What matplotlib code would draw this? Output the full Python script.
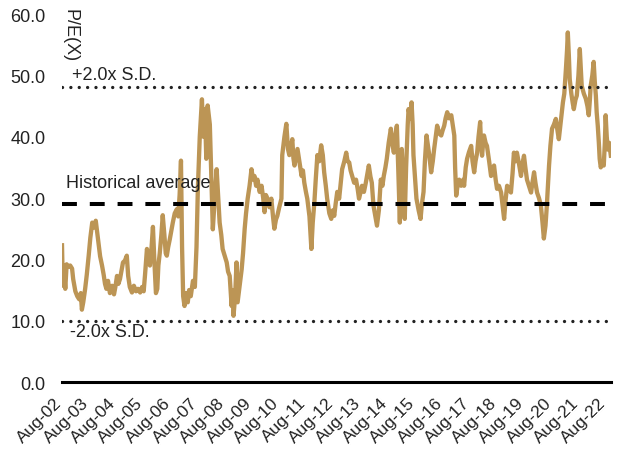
import matplotlib
matplotlib.use("Agg")
import matplotlib.pyplot as plt
import numpy as np

plt.rcParams['font.family'] = ['Liberation Sans', 'DejaVu Sans']

# Time in decimal years, P/E values
t = [2002.50, 2002.53, 2002.56, 2002.62, 2002.67, 2002.73, 2002.80, 2002.87, 2002.91, 2002.99,
     2003.06, 2003.13, 2003.19, 2003.23, 2003.28, 2003.35, 2003.41, 2003.48, 2003.54, 2003.61,
     2003.68, 2003.74, 2003.79, 2003.85, 2003.90, 2003.97, 2004.03, 2004.08, 2004.13, 2004.19,
     2004.26, 2004.34, 2004.41, 2004.46, 2004.52, 2004.57, 2004.63, 2004.68, 2004.74, 2004.81,
     2004.88, 2004.93, 2004.99, 2005.07, 2005.14, 2005.22, 2005.29, 2005.37, 2005.44, 2005.50,
     2005.55, 2005.62, 2005.68, 2005.73, 2005.79, 2005.84, 2005.89, 2005.95, 2006.00, 2006.04,
     2006.09, 2006.15, 2006.20, 2006.26, 2006.31, 2006.35, 2006.40, 2006.46, 2006.51, 2006.57,
     2006.64, 2006.72, 2006.77, 2006.82, 2006.87, 2006.91, 2006.95, 2007.00, 2007.06, 2007.12,
     2007.17, 2007.23, 2007.31, 2007.38, 2007.44, 2007.49, 2007.56, 2007.64, 2007.69, 2007.75,
     2007.80, 2007.85, 2007.93, 2008.00, 2008.04, 2008.11, 2008.18, 2008.24, 2008.29, 2008.35,
     2008.40, 2008.48, 2008.55, 2008.60, 2008.66, 2008.73, 2008.77, 2008.80, 2008.86, 2008.91,
     2008.95, 2009.02, 2009.10, 2009.15, 2009.21, 2009.26, 2009.32, 2009.39, 2009.46, 2009.52,
     2009.57, 2009.63, 2009.68, 2009.76, 2009.83, 2009.89, 2009.94, 2009.99, 2010.05, 2010.12,
     2010.19, 2010.25, 2010.30, 2010.36, 2010.41, 2010.48, 2010.56, 2010.59, 2010.67, 2010.74,
     2010.80, 2010.85, 2010.91, 2010.96, 2011.00, 2011.04, 2011.09, 2011.15, 2011.22, 2011.30,
     2011.35, 2011.40, 2011.46, 2011.51, 2011.59, 2011.66, 2011.71, 2011.77, 2011.82, 2011.88,
     2011.95, 2012.02, 2012.08, 2012.13, 2012.19, 2012.24, 2012.32, 2012.39, 2012.45, 2012.50,
     2012.55, 2012.61, 2012.68, 2012.74, 2012.79, 2012.87, 2012.94, 2012.99, 2013.05, 2013.10,
     2013.16, 2013.23, 2013.30, 2013.36, 2013.41, 2013.47, 2013.52, 2013.59, 2013.66, 2013.72,
     2013.77, 2013.83, 2013.88, 2013.94, 2013.99, 2014.07, 2014.14, 2014.21, 2014.27, 2014.32,
     2014.38, 2014.43, 2014.50, 2014.58, 2014.63, 2014.69, 2014.74, 2014.80, 2014.85, 2014.91,
     2014.94, 2014.98, 2015.03, 2015.09, 2015.14, 2015.20, 2015.23, 2015.29, 2015.34, 2015.38,
     2015.41, 2015.47, 2015.52, 2015.60, 2015.67, 2015.72, 2015.78, 2015.83, 2015.89, 2015.99,
     2016.06, 2016.12, 2016.17, 2016.23, 2016.28, 2016.36, 2016.43, 2016.48, 2016.54, 2016.59,
     2016.65, 2016.72, 2016.80, 2016.85, 2016.91, 2016.94, 2016.98, 2017.03, 2017.09, 2017.16,
     2017.24, 2017.27, 2017.33, 2017.38, 2017.45, 2017.53, 2017.58, 2017.64, 2017.69, 2017.75,
     2017.80, 2017.86, 2017.89, 2017.93, 2017.97, 2018.00, 2018.06, 2018.11, 2018.19, 2018.26,
     2018.32, 2018.37, 2018.43, 2018.48, 2018.55, 2018.63, 2018.68, 2018.74, 2018.79, 2018.85,
     2018.92, 2018.99, 2019.05, 2019.10, 2019.16, 2019.21, 2019.29, 2019.36, 2019.41, 2019.47,
     2019.52, 2019.58, 2019.65, 2019.73, 2019.78, 2019.84, 2019.89, 2019.95, 2020.02, 2020.09,
     2020.15, 2020.20, 2020.26, 2020.31, 2020.35, 2020.39, 2020.44, 2020.50, 2020.57, 2020.64,
     2020.70, 2020.75, 2020.81, 2020.86, 2020.90, 2020.95, 2021.01, 2021.05, 2021.08, 2021.12,
     2021.15, 2021.21, 2021.26, 2021.30, 2021.36, 2021.41, 2021.47, 2021.52, 2021.56, 2021.59,
     2021.67, 2021.74, 2021.80, 2021.85, 2021.89, 2021.92, 2021.98, 2022.03, 2022.07, 2022.11,
     2022.14, 2022.18, 2022.22, 2022.25, 2022.29, 2022.35, 2022.40, 2022.44, 2022.47, 2022.51,
     2022.55, 2022.60, 2022.66]

pe = [22.3, 15.7, 19.0, 15.2, 19.2, 18.8, 19.0, 18.5, 16.8, 14.8,
      14.0, 13.5, 14.5, 11.8, 13.0, 15.2, 17.5, 20.6, 23.5, 26.0,
      25.2, 26.3, 24.5, 22.2, 20.5, 19.0, 17.5, 16.0, 15.2, 16.5,
      14.5, 15.7, 14.3, 15.5, 17.3, 16.0, 16.8, 18.0, 19.5, 19.8,
      20.6, 17.3, 15.5, 14.6, 15.7, 14.8, 15.2, 14.6, 15.5, 14.8,
      17.5, 21.7, 20.0, 19.0, 22.0, 25.3, 20.0, 14.5, 15.2, 19.0,
      21.0, 24.0, 27.2, 24.0, 21.0, 20.6, 22.0, 23.3, 24.5, 26.0,
      27.5, 28.2, 27.0, 30.5, 36.1, 22.0, 14.0, 12.4, 14.5, 13.0,
      15.0, 14.0, 16.5, 15.5, 22.0, 31.5, 40.0, 46.1, 40.0, 44.5,
      36.4, 45.1, 42.0, 31.5, 24.9, 30.0, 34.7, 30.0, 26.0, 24.0,
      21.7, 20.5, 19.5, 18.0, 17.3, 12.4, 15.0, 10.8, 14.0, 19.5,
      13.0, 15.5, 18.4, 21.0, 25.0, 27.5, 29.9, 32.0, 34.7, 33.0,
      33.6, 32.0, 33.0, 31.0, 32.0, 30.0, 27.7, 30.5, 29.9, 28.5,
      29.9, 27.0, 25.0, 26.5, 27.1, 28.5, 29.9, 37.0, 40.0, 42.1,
      38.0, 37.0, 38.5, 39.6, 36.5, 35.3, 36.5, 38.0, 36.0, 33.6,
      34.5, 32.5, 31.0, 29.9, 27.0, 21.7, 26.0, 29.3, 33.0, 37.0,
      36.0, 38.6, 37.0, 34.2, 32.0, 29.9, 27.5, 26.6, 28.0, 27.1,
      29.0, 31.0, 29.9, 32.5, 34.7, 36.0, 37.4, 36.0, 35.8, 34.5,
      33.6, 32.5, 33.0, 31.5, 29.9, 31.0, 32.0, 31.0, 32.5, 34.0,
      35.3, 33.5, 32.5, 28.8, 27.5, 25.5, 28.0, 33.0, 32.0, 33.6,
      35.0, 36.4, 39.0, 41.3, 39.0, 37.4, 40.0, 41.8, 35.0, 26.0,
      32.0, 38.0, 33.0, 26.6, 35.0, 42.0, 44.5, 43.0, 45.6, 42.0,
      37.0, 33.0, 29.9, 28.0, 26.6, 29.0, 31.0, 36.0, 40.2, 37.0,
      34.2, 36.0, 38.0, 40.0, 41.8, 40.5, 40.2, 41.0, 41.8, 43.0,
      44.0, 43.0, 43.5, 42.0, 40.2, 35.0, 30.4, 32.0, 33.0, 32.0,
      33.0, 32.0, 35.0, 36.4, 37.5, 38.5, 36.0, 34.2, 36.0, 37.4,
      40.0, 42.4, 39.0, 36.9, 39.0, 40.2, 39.0, 38.5, 36.0, 33.6,
      34.5, 35.3, 33.0, 31.5, 32.0, 30.9, 29.0, 26.6, 29.5, 32.0,
      31.5, 30.9, 34.0, 37.4, 36.0, 37.4, 35.5, 33.6, 35.5, 36.9,
      35.0, 33.0, 32.0, 30.9, 32.5, 34.2, 32.5, 30.9, 30.0, 28.8,
      26.0, 23.4, 25.5, 28.8, 32.0, 35.3, 38.5, 41.3, 42.0, 42.9,
      41.0, 39.6, 42.0, 44.0, 45.6, 47.0, 51.0, 54.0, 57.0, 53.0,
      49.4, 47.0, 45.5, 44.5, 46.0, 46.7, 50.0, 54.3, 51.0, 48.3,
      47.0, 46.2, 45.0, 43.5, 46.0, 48.3, 50.0, 52.2, 49.0, 46.7,
      44.0, 41.8, 39.0, 36.4, 35.0, 35.8, 35.3, 39.0, 43.5, 40.0,
      37.9, 39.0, 36.9]

mean_pe = 29.0
plus_2sd = 48.1
minus_2sd = 10.0

tick_years = list(range(2002, 2023))
tick_labels = [f"Aug-{y % 100:02d}" for y in tick_years]
tick_pos = [y + 7 / 12 for y in tick_years]

fig = plt.figure(figsize=(6.17, 4.56), dpi=100)
ax = fig.add_axes([0.1005, 0.160, 0.8895, 0.807])

x0, x1 = t[0], t[-1]
ax.plot(t, pe, color='#BC9555', lw=3.1, solid_joinstyle='round', zorder=2)

ax.plot([x0, x1], [plus_2sd, plus_2sd], color='#222222', lw=2.4,
        linestyle=(0, (0.01, 2.5)), dash_capstyle='round', zorder=3)
ax.plot([x0, x1], [minus_2sd, minus_2sd], color='#222222', lw=2.4,
        linestyle=(0, (0.01, 2.5)), dash_capstyle='round', zorder=3)
ax.plot([x0, x1], [mean_pe, mean_pe], color='black', lw=2.9,
        linestyle=(0, (3.7, 3.2)), zorder=3)

ax.set_xlim(x0, x1)
ax.set_ylim(0, 60)

for s in ['left', 'right', 'top']:
    ax.spines[s].set_visible(False)
ax.spines['bottom'].set_linewidth(2.2)
ax.spines['bottom'].set_color('black')

ax.set_yticks(np.arange(0, 61, 10))
ax.set_yticklabels([f"{v:.1f}" for v in np.arange(0, 61, 10)])
ax.set_xticks(tick_pos)
ax.set_xticklabels(tick_labels, rotation=45, ha='right')
ax.tick_params(axis='y', length=0, pad=12, labelsize=13, colors='#222222')
ax.tick_params(axis='x', length=0, pad=9, labelsize=12.5, colors='#222222')

ax.text(2002.88, 50.1, "+2.0x S.D.", fontsize=13, va='center', ha='left', color='#222222')
ax.text(2002.66, 32.6, "Historical average", fontsize=13, va='center', ha='left', color='#222222')
ax.text(2002.78, 8.3, "-2.0x S.D.", fontsize=13, va='center', ha='left', color='#222222')
ax.text(2002.80, 56.6, "P/E(X)", fontsize=13, va='center', ha='center', rotation=-90,
        color='#222222', clip_on=False)

fig.savefig("out.png", dpi=100)
